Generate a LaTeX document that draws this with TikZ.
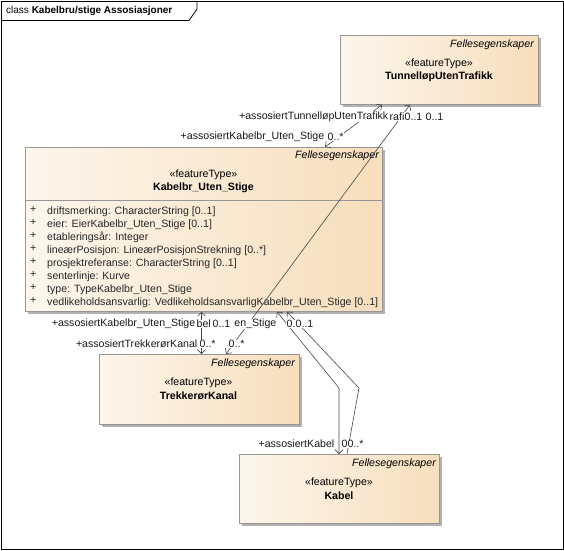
\documentclass[tikz,border=0pt]{standalone}
\usepackage{fontspec}
\setmainfont{Liberation Sans}
\usetikzlibrary{positioning}
\usetikzlibrary{arrows.meta}
\usetikzlibrary{shadows}

\definecolor{boxleft}{RGB}{253,246,236}
\definecolor{boxright}{RGB}{247,222,188}
\definecolor{boxline}{RGB}{150,150,150}
\definecolor{lineclr}{RGB}{70,70,70}
\newcommand{\umlfont}{\fontsize{10.6}{13}\selectfont}

\begin{document}
\begin{tikzpicture}[x=1pt, y=-1pt, >={Straight Barb[length=4pt,width=8pt]},
                          classbox/.style={rectangle, draw=boxline, line width=0.8pt, left color=boxleft, right color=boxright, inner sep=0pt, anchor=north west, drop shadow={shadow xshift=3pt, shadow yshift=-3pt, fill=black!30, opacity=1}},
                          pkgname/.style={font=\umlfont\itshape, anchor=east, inner sep=0pt},
                          stereo/.style={font=\umlfont, inner sep=0pt},
                          clsname/.style={font=\umlfont\bfseries, inner sep=0pt},
                          attrtext/.style={align=left, anchor=north west, inner sep=0pt, text=black!85, font=\umlfont},
                          role/.style={fill=white, inner sep=0.5pt, anchor=west, text=black!90, font=\umlfont},
                          assoc/.style={draw=lineclr, line width=0.6pt},
                      ]
                      \useasboundingbox (0,0) rectangle (564,550);
                      % Frame
                      \draw[line width=0.8pt] (1,1) rectangle (563,549);
                      \draw[line width=0.8pt] (1,20.5) -- (189,20.5) -- (197,9) -- (197,1);
                      \node[anchor=west, inner sep=0pt] (title) at (6,11) {class \textbf{Kabelbru/stige Assosiasjoner}};

                      % Nodes
                      \node[classbox, minimum width=198pt, minimum height=69pt]   (tunnel)   at (340,35)  {};
                      \node[pkgname]   (tunnel_pkg)    at (534,45)    {Fellesegenskaper};
                      \node[stereo]    (tunnel_st)     at (439,64)    {«featureType»};
                      \node[clsname]   (tunnel_name)   at (439,76.5)  {TunnelløpUtenTrafikk};

                      \node[classbox, minimum width=357pt, minimum height=164pt]  (kabelbr)  at (25,147)  {};
                      \node[pkgname]   (kabelbr_pkg)   at (379,156)   {Fellesegenskaper};
                      \node[stereo]    (kabelbr_st)    at (203.5,175) {«featureType»};
                      \node[clsname]   (kabelbr_name)  at (203.5,188) {Kabelbr\_Uten\_Stige};
                      \draw[boxline, line width=0.8pt] ([yshift=-53pt]kabelbr.north west) -- ([yshift=-53pt]kabelbr.north east);
                      \node[attrtext]  (kabelbr_plus)  at (30,206.5)  {+\\+\\+\\+\\+\\+\\+\\+};
                      \node[attrtext]  (kabelbr_attr)  at (47,206.5)  {driftsmerking: CharacterString [0..1]\\
                          eier: EierKabelbr\_Uten\_Stige [0..1]\\
                          etableringsår: Integer\\
                          lineærPosisjon: LineærPosisjonStrekning [0..*]\\
                          prosjektreferanse: CharacterString [0..1]\\
                          senterlinje: Kurve\\
                          type: TypeKabelbr\_Uten\_Stige\\
                          vedlikeholdsansvarlig: VedlikeholdsansvarligKabelbr\_Uten\_Stige [0..1]};

                      \node[classbox, minimum width=199.5pt, minimum height=69.5pt] (trekker) at (99,354) {};
                      \node[pkgname]   (trekker_pkg)   at (295,364)   {Fellesegenskaper};
                      \node[stereo]    (trekker_st)    at (198.5,383) {«featureType»};
                      \node[clsname]   (trekker_name)  at (198.5,395.5) {TrekkerørKanal};

                      \node[classbox, minimum width=200pt, minimum height=68.5pt]  (kabel)    at (239,454) {};
                      \node[pkgname]   (kabel_pkg)     at (436,464)   {Fellesegenskaper};
                      \node[stereo]    (kabel_st)      at (339,483)   {«featureType»};
                      \node[clsname]   (kabel_name)    at (339,495.6) {Kabel};

                      %Lines
                      \coordinate (bend_a) at (339,388);
                      \coordinate (bend_b) at (359,388);
                      \draw[assoc, <->] ([xshift=42pt]tunnel.south west) -- ([xshift=300pt]kabelbr.north west);
                      \draw[assoc, <->] ([xshift=70pt]tunnel.south west) -- ([xshift=127pt]trekker.north west);
                      \draw[assoc, <->] ([xshift=176.5pt]kabelbr.south west) -- ([xshift=102.5pt]trekker.north west);
                      \draw[assoc, <->] ([xshift=252pt]kabelbr.south west) -- (bend_a) -- ([xshift=100pt]kabel.north west);
                      \draw[assoc, <-] ([xshift=262pt]kabelbr.south west) -- (bend_b) -- ([xshift=108pt]kabel.north west);

                      %Labels
                      \node[role, anchor=east] (role_tu1) at (389,116.5) {+assosiertTunnelløpUtenTrafikk};
                      \node[role]  (role_tu2) at (389,116.5) {rafi};
                      \node[role]  (mult_tu1) at (404,116.5) {0..1};
                      \node[role]  (mult_tu2) at (425,116.5) {0..1};
                      \node[role]  (role_kb1) at (180,136.5) {+assosiertKabelbr\_Uten\_Stige};
                      \node[role]  (mult_kb1) at (327,136.5) {0..*};

                      \node[role, anchor=east] (role_kb2) at (196,324) {+assosiertKabelbr\_Uten\_Stige};
                      \node[role]  (role_kb3) at (196,324) {bel};
                      \node[role]  (mult_kb2) at (212,324) {0..1};
                      \node[role, anchor=east] (role_kb4) at (277,324) {en\_Stige};
                      \node[role]  (mult_kb3) at (286,324) {0.};
                      \node[role]  (mult_kb4) at (295,324) {0..1};

                      \node[role, anchor=east] (role_tr) at (198,344) {+assosiertTrekkerørKanal};
                      \node[role]  (mult_tr1) at (199,344) {0..*};
                      \node[role]  (mult_tr2) at (228,344) {0..*};

                      \node[role, anchor=east] (role_ka) at (335,444) {+assosiertKabel};
                      \node[role]  (mult_ka1) at (341,444) {0};
                      \node[role]  (mult_ka2) at (347,444) {0..*};
                  \end{tikzpicture}
\end{document}
